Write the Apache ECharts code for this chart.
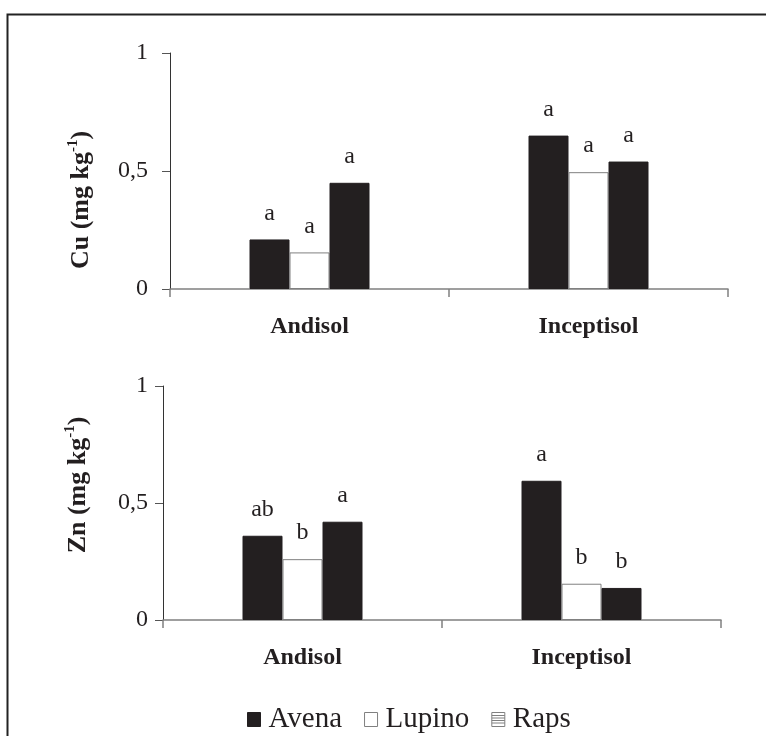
<!DOCTYPE html>
<html>
<head>
<meta charset="utf-8">
<script src="https://cdn.jsdelivr.net/npm/echarts@6/dist/echarts.min.js"></script>
<style>
html,body{margin:0;padding:0;background:#fff;}
#chart{width:766px;height:736px;}
</style>
</head>
<body>
<div id="chart"></div>
<script>
const categories = ['Andisol', 'Inceptisol'];
const seriesNames = ['Avena', 'Lupino', 'Raps'];
const yTicks = [0, 0.5, 1];

const cuAvena = [0.21, 0.65];
const cuLupino = [0.155, 0.495];
const cuRaps = [0.45, 0.54];
const cuLetters = [['a', 'a'], ['a', 'a'], ['a', 'a']];

const znAvena = [0.36, 0.595];
const znLupino = [0.26, 0.155];
const znRaps = [0.42, 0.137];
const znLetters = [['ab', 'a'], ['b', 'b'], ['a', 'b']];

const serif = '"Liberation Serif", "Times New Roman", serif';
const ink = '#231f20';
const barColors = [ink, '#ffffff', ink];

const chart = echarts.init(document.getElementById('chart'), null, {renderer: 'canvas'});

function yAxisCfg(gridIndex, nameRich, labelMargin, nameGap, pad) {
  return {
    type: 'value', gridIndex, min: yTicks[0], max: yTicks[yTicks.length - 1], interval: 0.5,
    axisLine: {show: true, lineStyle: {color: '#333', width: 1}},
    axisTick: {show: true, length: 8, lineStyle: {color: '#555'}},
    splitLine: {show: false},
    axisLabel: {
      margin: labelMargin, color: ink, fontFamily: serif, fontSize: 24,
      formatter: v => String(v).replace('.', ',')
    },
    name: nameRich, nameLocation: 'middle', nameGap: nameGap, nameRotate: 90,
    nameTextStyle: {
      padding: pad,
      rich: {
        b: {fontFamily: serif, fontSize: 26, fontWeight: 'bold', color: ink, lineHeight: 30},
        s: {fontFamily: serif, fontSize: 15, fontWeight: 'bold', color: ink, lineHeight: 15, verticalAlign: 'top'}
      }
    }
  };
}

function xAxisCfg(gridIndex) {
  return {
    type: 'category', gridIndex, data: categories,
    axisLine: {lineStyle: {color: '#808080', width: 1.5}},
    axisTick: {show: true, length: 8, lineStyle: {color: '#808080', width: 1.5}},
    axisLabel: {margin: 26, color: ink, fontFamily: serif, fontSize: 24, fontWeight: 'bold'}
  };
}

function makeSeries(names, datasets, letters, axisIndex) {
  return names.map((n, i) => ({
    name: n, type: 'bar', xAxisIndex: axisIndex, yAxisIndex: axisIndex,
    data: datasets[i], barWidth: 40, barGap: '0%',
    itemStyle: {color: barColors[i], borderColor: i === 1 ? '#808080' : ink, borderWidth: 1},
    label: {
      show: true, position: 'top', distance: 14, color: ink, fontFamily: serif, fontSize: 24,
      formatter: p => letters[i][p.dataIndex]
    }
  }));
}

const rapsIcon = 'path://M0,0H13V14H0Z M0,3H13 M0,5.5H13 M0,8H13 M0,10.5H13';

chart.setOption({
  animation: false,
  backgroundColor: '#fff',
  grid: [
    {left: 170, right: 38, top: 53, height: 236},
    {left: 163, right: 45, top: 386, height: 234}
  ],
  xAxis: [xAxisCfg(0), xAxisCfg(1)],
  yAxis: [
    yAxisCfg(0, '{b|Cu (mg kg}{s|-1}{b|)}', 22, 74, [0, 58, 0, 0]),
    yAxisCfg(1, '{b|Zn (mg kg}{s|-1}{b|)}', 15, 70, [0, 0, 0, 36])
  ],
  legend: {
    left: 242, top: 700, itemWidth: 13, itemHeight: 14, itemGap: 22,
    textStyle: {fontFamily: serif, fontSize: 29, color: ink, padding: [0, 0, 0, 3]},
    data: [
      {name: 'Avena', icon: 'rect', itemStyle: {color: ink, borderColor: ink, borderWidth: 1}},
      {name: 'Lupino', icon: 'rect', itemStyle: {color: '#fff', borderColor: '#808080', borderWidth: 1}},
      {name: 'Raps', icon: rapsIcon, itemStyle: {color: '#fff', borderColor: '#808080', borderWidth: 1}}
    ],
    selectedMode: false
  },
  graphic: [{
    type: 'rect', left: 5, top: 12, silent: true,
    shape: {x: 0, y: 0, width: 800, height: 800},
    style: {fill: 'none', stroke: '#222', lineWidth: 2}
  }],
  series: [
    ...makeSeries(seriesNames, [cuAvena, cuLupino, cuRaps], cuLetters, 0),
    ...makeSeries(seriesNames, [znAvena, znLupino, znRaps], znLetters, 1)
  ]
});
</script>
</body>
</html>
